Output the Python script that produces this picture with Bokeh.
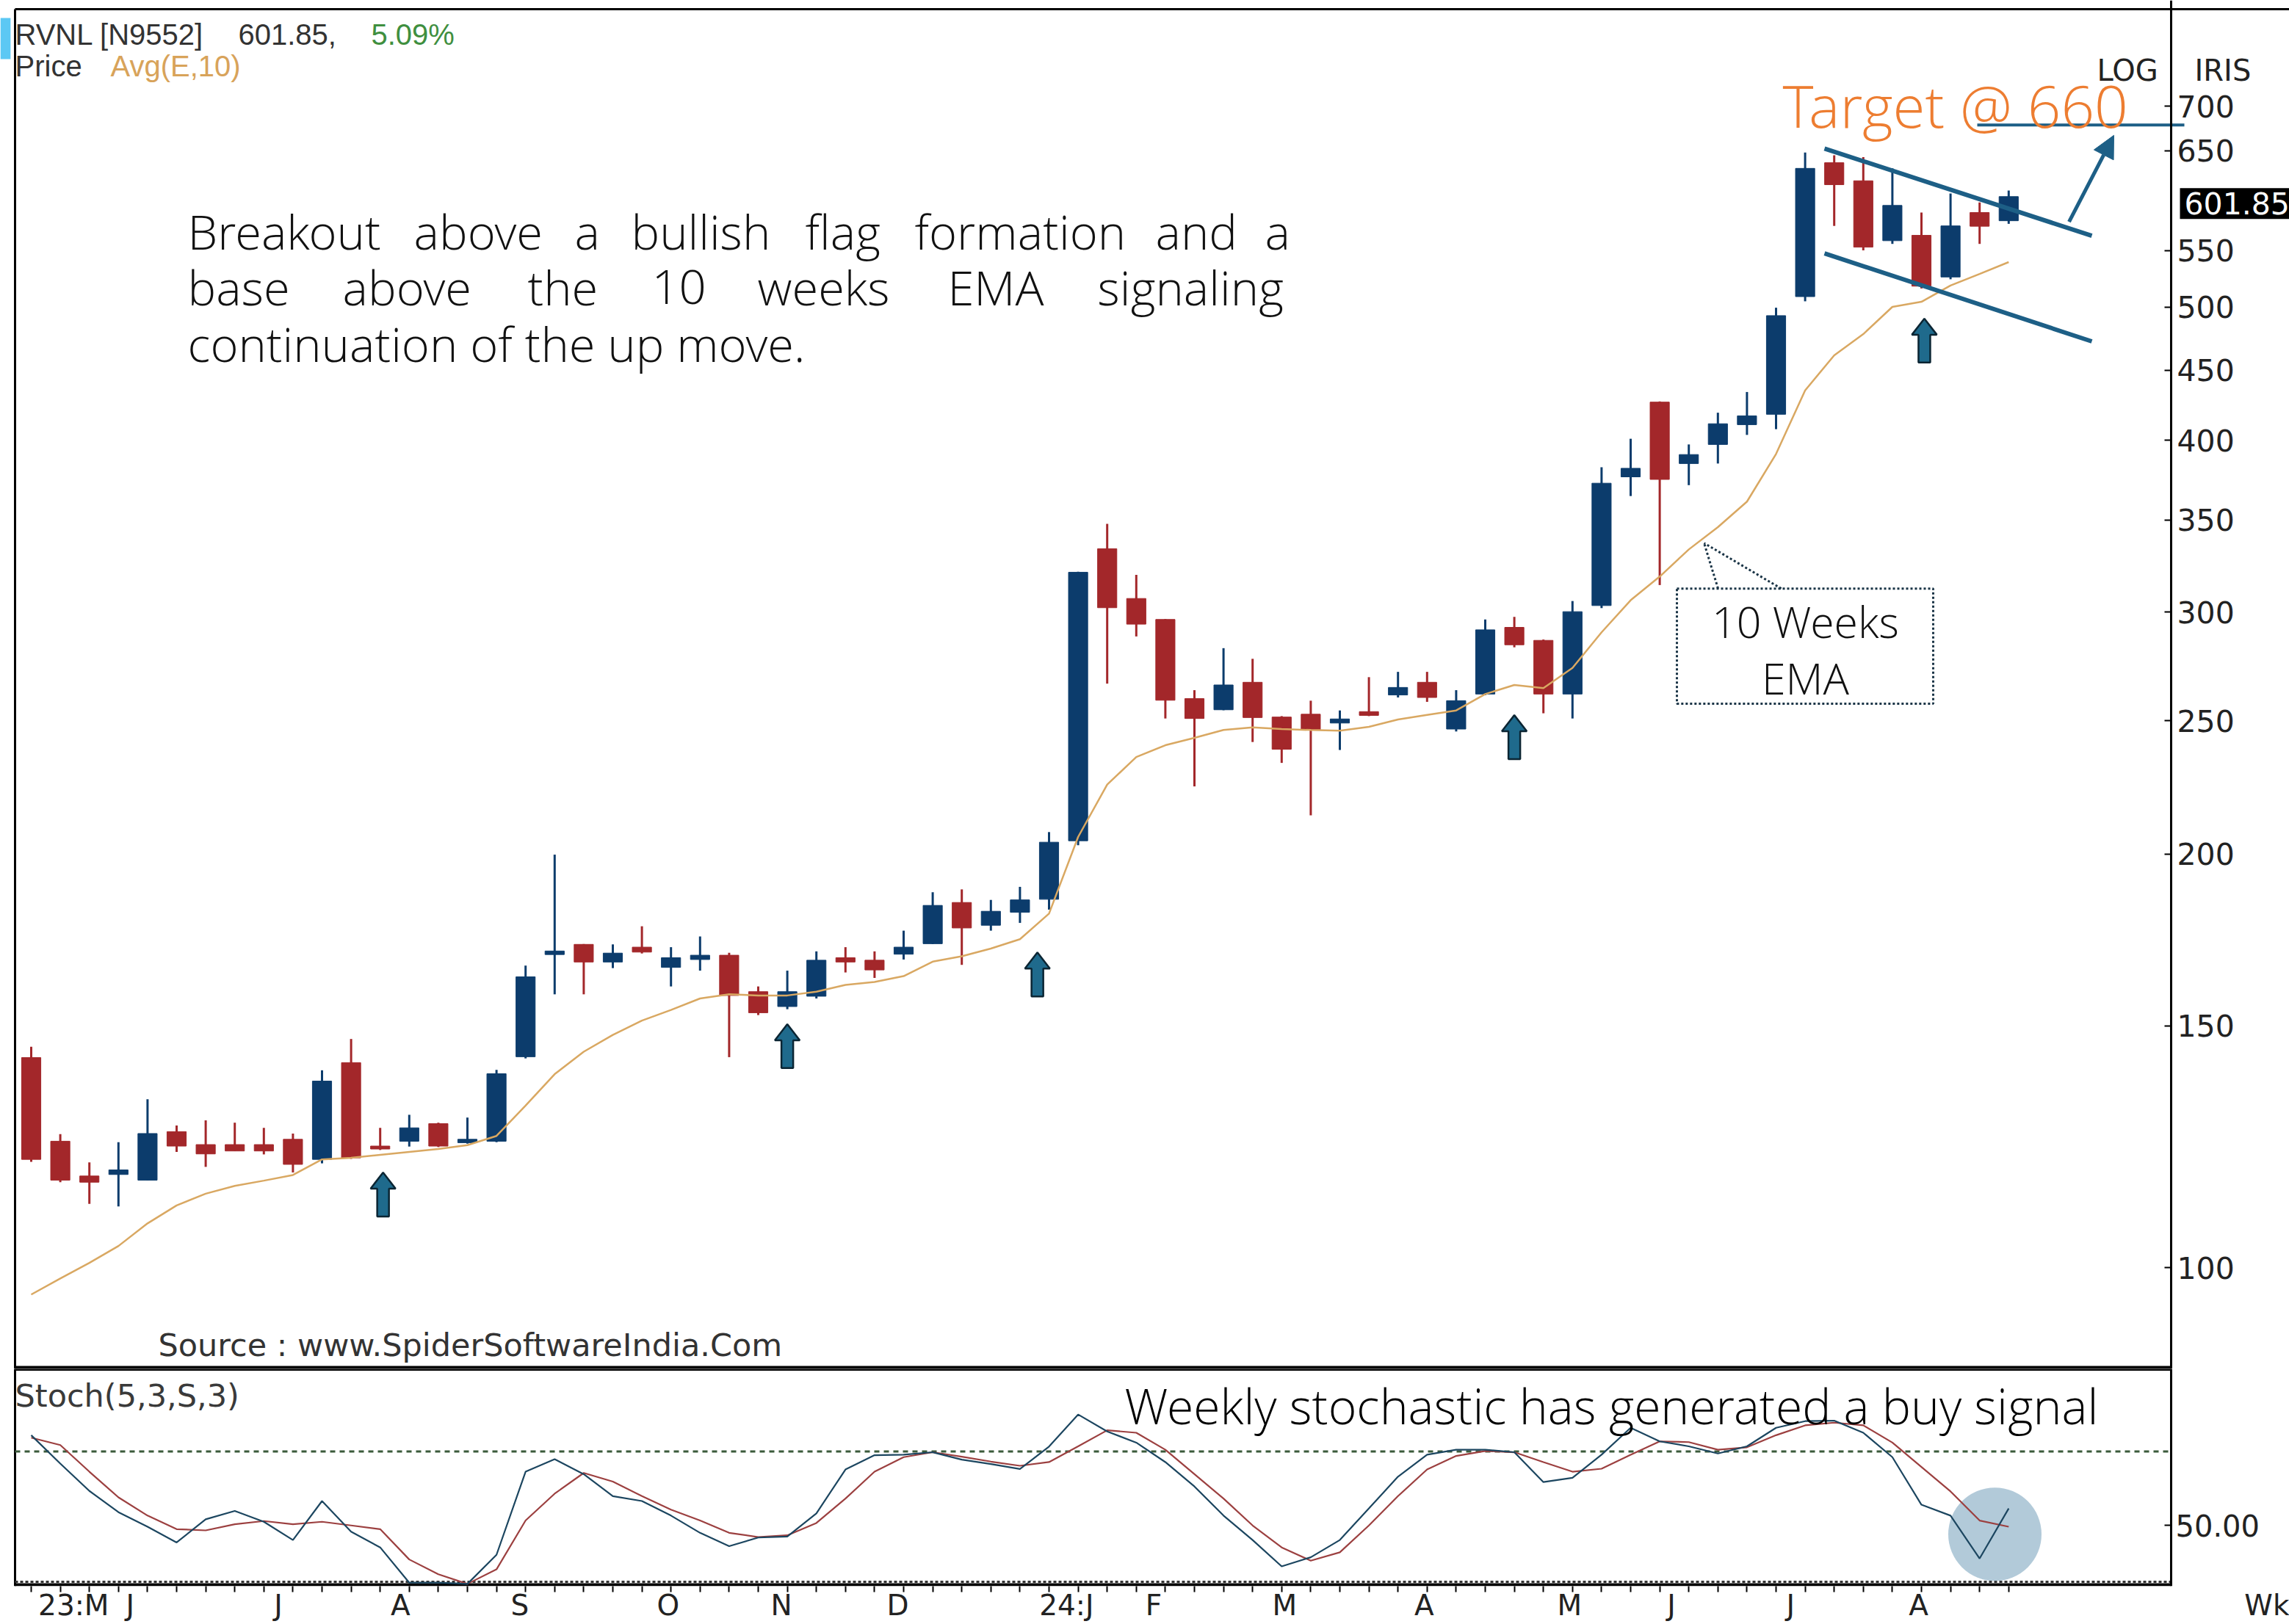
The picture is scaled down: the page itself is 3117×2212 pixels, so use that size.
import math
from bokeh.plotting import figure
from bokeh.layouts import column
from bokeh.models import (Range1d, FixedTicker, NumeralTickFormatter, CustomJSTickFormatter,
                          Label, Arrow, NormalHead)
from bokeh.core.properties import value
from bokeh.embed import file_html
from bokeh.resources import INLINE

# ---------------- data (weekly candles) ----------------
opens = [142.2, 123.6, 116.6, 116.9, 115.8, 125.6, 122.9, 122.9, 122.9, 124.0,
         119.9, 141.0, 122.6, 123.6, 127.3, 123.3, 123.6, 142.4, 169.0, 171.9,
         166.9, 171.1, 165.4, 167.6, 168.8, 158.8, 154.9, 157.6, 168.1, 167.4,
         169.1, 172.1, 184.4, 177.5, 181.4, 185.4, 204.5, 333.6, 306.9, 296.3,
         259.5, 254.7, 266.7, 251.6, 252.8, 249.1, 253.9, 261.1, 266.7, 246.6,
         261.5, 292.4, 286.1, 261.5, 303.3, 376.3, 426.5, 384.8, 397.3, 410.7,
         417.9, 509.0, 637.0, 618.0, 559.0, 564.0, 526.0, 586.0, 578.0]
highs = [144.8, 125.1, 119.3, 123.4, 132.6, 126.9, 128.0, 127.5, 126.4, 125.2,
         139.2, 146.7, 126.4, 129.2, 127.5, 128.6, 139.3, 165.9, 199.8, 172.0,
         171.9, 177.2, 171.1, 174.2, 169.5, 160.2, 164.5, 169.9, 171.1, 169.9,
         175.9, 187.6, 188.5, 185.2, 189.3, 207.5, 321.0, 347.8, 319.3, 296.5,
         263.2, 282.4, 277.4, 252.0, 258.6, 254.4, 269.0, 271.4, 271.4, 263.2,
         296.3, 297.6, 286.5, 305.6, 382.4, 401.1, 427.0, 397.3, 419.0, 433.8,
         499.6, 648.0, 645.0, 643.0, 631.0, 586.0, 605.0, 596.0, 608.0]
lows = [119.4, 115.4, 111.3, 110.8, 115.8, 121.4, 118.4, 121.6, 120.9, 117.3,
        119.1, 120.0, 121.8, 122.5, 122.4, 123.1, 123.4, 142.0, 158.1, 158.1,
        165.2, 169.3, 160.2, 164.5, 142.3, 152.7, 154.2, 157.0, 164.0, 162.5,
        167.6, 172.0, 166.1, 175.9, 178.2, 182.2, 203.0, 266.1, 288.0, 251.0,
        224.0, 254.5, 241.3, 233.0, 213.4, 238.1, 252.0, 260.0, 258.1, 245.6,
        261.0, 282.8, 253.2, 251.0, 302.0, 364.4, 313.9, 371.1, 384.8, 403.7,
        407.6, 505.0, 573.0, 550.0, 556.0, 516.0, 524.0, 556.0, 575.0]
closes = [119.9, 115.8, 115.4, 117.8, 125.2, 122.6, 121.0, 121.6, 121.6, 118.9,
          136.7, 120.2, 122.0, 126.4, 122.6, 124.0, 138.4, 162.8, 170.0, 166.9,
          169.4, 169.7, 168.1, 168.8, 157.8, 153.3, 158.8, 167.4, 166.9, 164.7,
          171.1, 183.5, 176.7, 181.7, 185.2, 204.0, 320.7, 302.2, 294.0, 258.8,
          251.0, 265.5, 251.4, 238.4, 246.2, 250.8, 252.3, 264.4, 260.0, 258.6,
          291.2, 284.0, 261.5, 300.2, 372.3, 381.7, 374.7, 390.6, 411.3, 416.8,
          493.0, 631.0, 614.0, 553.0, 593.0, 518.0, 573.0, 572.7, 601.85]
ema10 = [95.6, 98.2, 100.8, 103.7, 107.7, 111.0, 113.2, 114.7, 115.7, 116.8,
         119.9, 120.2, 120.8, 121.4, 122.0, 122.8, 124.7, 131.2, 138.3, 143.6,
         147.7, 151.3, 154.0, 157.0, 158.1, 157.8, 157.8, 158.8, 160.6, 161.4,
         163.0, 167.0, 168.5, 170.7, 173.4, 181.0, 205.8, 224.7, 235.3, 240.0,
         243.0, 246.2, 247.3, 246.6, 246.2, 245.9, 247.5, 250.6, 252.5, 254.4,
         261.5, 265.5, 264.1, 273.2, 290.0, 306.0, 318.4, 333.2, 345.9, 361.0,
         391.0, 435.0, 461.3, 478.0, 500.3, 504.6, 518.5, 528.7, 539.3]
stoch_k = [86.6, 75.1, 64.0, 55.4, 49.5, 43.1, 52.5, 55.9, 51.5, 44.1,
           59.9, 47.5, 41.1, 26.8, 26.8, 26.3, 38.1, 71.8, 76.9, 70.8,
           61.9, 59.9, 54.0, 47.0, 41.6, 45.1, 45.5, 54.9, 72.7, 78.5,
           78.7, 79.7, 76.7, 74.9, 72.9, 82.0, 95.0, 88.1, 83.6, 75.7,
           65.8, 54.0, 44.1, 33.4, 37.1, 44.1, 56.9, 69.8, 78.7, 80.7,
           80.7, 79.7, 67.6, 69.3, 78.7, 89.6, 84.1, 82.1, 79.2, 82.1,
           89.6, 92.3, 92.5, 87.6, 77.7, 58.4, 54.0, 36.6, 56.9]
stoch_d = [85.6, 82.6, 71.8, 61.4, 54.0, 48.5, 48.0, 50.5, 51.8, 50.5,
           51.5, 50.0, 48.5, 36.2, 30.2, 26.3, 32.2, 52.0, 62.9, 71.3,
           67.8, 61.9, 56.4, 52.0, 47.0, 45.3, 46.0, 51.0, 60.9, 71.8,
           77.7, 79.7, 77.9, 75.9, 74.2, 75.7, 82.1, 88.6, 87.6, 80.7,
           70.8, 60.9, 50.0, 41.1, 35.7, 39.1, 50.0, 61.9, 72.7, 78.2,
           80.2, 79.7, 75.7, 71.8, 73.0, 78.7, 84.1, 83.8, 80.7, 81.7,
           86.6, 90.6, 91.7, 90.6, 83.6, 73.7, 63.8, 52.0, 49.5]
month_labels = ["23:M", "J", "J", "A", "S", "O", "N", "D", "24:J", "F",
                "M", "A", "M", "J", "J", "A", "Wk"]
month_pos = [1.46, 3.4, 8.5, 12.7, 16.8, 21.9, 25.8, 29.8, 35.6, 38.6,
             43.1, 47.9, 52.9, 56.4, 60.5, 64.9, 76.9]
price_ticks = [100, 150, 200, 250, 300, 350, 400, 450, 500, 550, 650, 700]
stoch_ticks = [50]
signal_arrows_x = [12.1, 26.0, 34.6, 51.0, 65.1]
signal_arrows_p = [117.3, 150.4, 169.6, 252.4, 490.6]
target_price = 660

# ---------------- page geometry helpers ----------------
W, H = 3117, 2212
FL, AX, FT, FB = 20, 2956, 12, 1866      # left border, price axis, top border, panel split
X0_PX, DX_PX = 42.0, 39.6
P100_PX, OCT_PX = 1728.0, 564.0
S_BOT = 2163
S50_PX, S_UNIT = 2080.0, 3.37
TXT_DY = -18   # baseline correction for texts
THIN = "Open Sans Light, Open Sans"


def xd(px):
    return (px - X0_PX) / DX_PX


def pd(py):
    return 100.0 * 2 ** ((P100_PX - py) / OCT_PX)


def xpx(x):
    return X0_PX + DX_PX * x


def ppx(p):
    return P100_PX - OCT_PX * math.log2(p / 100.0)


def sd(py):
    return 50 + (S50_PX - py) / S_UNIT


UP = "#0c3c6c"
DN = "#a3272a"
ANN = "#1d5f86"
DARK = "#2b2b2b"

N = len(closes)
idx = list(range(N))

# ---------------- price panel ----------------
p1 = figure(frame_width=W, frame_height=FB,
            min_border_left=0, min_border_right=0, min_border_top=0, min_border_bottom=0,
            x_range=Range1d(xd(0), xd(W)), y_range=Range1d(pd(FB), pd(0)),
            y_axis_type="log", y_axis_location="right", x_axis_location=None,
            toolbar_location=None, output_backend="svg", title=None)
p1.xgrid.visible = False
p1.ygrid.visible = False
p1.outline_line_color = None
p1.background_fill_color = "white"
p1.border_fill_color = "white"

ya = p1.yaxis[0]
ya.fixed_location = xd(AX)
ya.ticker = FixedTicker(ticks=price_ticks)
ya.formatter = NumeralTickFormatter(format="0")
ya.major_label_text_font = "DejaVu Sans"
ya.major_label_text_font_size = "41px"
ya.major_label_text_color = "#222222"
ya.major_tick_in = 9
ya.major_tick_out = 0
ya.major_tick_line_width = 2
ya.minor_tick_line_color = None
ya.axis_line_width = 3
ya.major_label_standoff = 8

# frame borders
p1.segment(x0=[xd(FL), xd(FL), xd(FL)], y0=[pd(FT), pd(FT), pd(FB - 2)],
           x1=[xd(W), xd(FL), xd(AX)], y1=[pd(FT), pd(FB), pd(FB - 2)],
           line_color="black", line_width=[3, 3, 4])

colors = [UP if c >= o else DN for o, c in zip(opens, closes)]
tops = [max(o, c) for o, c in zip(opens, closes)]
bots = [min(o, c) for o, c in zip(opens, closes)]
p1.segment(x0=idx, y0=lows, x1=idx, y1=highs, line_color=colors, line_width=3)
p1.vbar(x=idx, width=0.66, top=tops, bottom=bots, fill_color=colors,
        line_color=colors, line_width=1)
p1.line(idx, ema10, line_color="#d9a862", line_width=2.5)

# flag lines and target
p1.segment(x0=[xd(2484), xd(2484)], y0=[pd(202), pd(345)],
           x1=[xd(2848), xd(2848)], y1=[pd(321), pd(465)],
           line_color=ANN, line_width=6)
p1.segment(x0=[xd(2692)], y0=[pd(170)], x1=[xd(2974)], y1=[pd(170)],
           line_color=ANN, line_width=4)
p1.add_layout(Arrow(end=NormalHead(size=30, fill_color=ANN, line_color=ANN),
                    x_start=xd(2817), y_start=pd(302), x_end=xd(2878), y_end=pd(184),
                    line_color=ANN, line_width=5))

# block arrows under candles
xs, ys = [], []
for ax, ap in zip(signal_arrows_x, signal_arrows_p):
    cx, ty = xpx(ax), ppx(ap)
    shape = [(0, 0), (17, 22), (8, 22), (8, 60), (-8, 60), (-8, 22), (-17, 22)]
    xs.append([xd(cx + dx) for dx, dy in shape])
    ys.append([pd(ty + dy) for dx, dy in shape])
p1.patches(xs, ys, fill_color="#1f6a8c", line_color="#0b2533", line_width=2.5)

# callout box "10 Weeks EMA"
CB = "#1a3446"
p1.line([xd(v) for v in [2283, 2632, 2632, 2283, 2283]],
        [pd(v) for v in [802, 802, 959, 959, 802]],
        line_color=CB, line_width=3, line_dash="3 3")
p1.multi_line([[xd(2339), xd(2320)], [xd(2425), xd(2320)]],
              [[pd(802), pd(740)], [pd(802), pd(740)]],
              line_color=CB, line_width=3, line_dash="3 3")
p1.text(x=[xd(2458), xd(2458)], y=[pd(864 + TXT_DY), pd(941 + TXT_DY)],
        text=["10 Weeks", "EMA"],
        text_font=value(THIN), text_font_size="59px", text_color="#111111",
        text_align="center", text_baseline="alphabetic")

# paragraph (justified lines placed word by word)
line1 = ["Breakout", "above", "a", "bullish", "flag", "formation", "and", "a"]
line1_x = [255, 563, 782, 859, 1096, 1245, 1573, 1722]
line2 = ["base", "above", "the", "10", "weeks", "EMA", "signaling"]
line2_x = [255, 466, 718, 887, 1031, 1290, 1494]
wx = [xd(v) for v in line1_x] + [xd(v) for v in line2_x] + [xd(255)]
wy = ([pd(333 + TXT_DY)] * len(line1) + [pd(409 + TXT_DY)] * len(line2)
      + [pd(486 + TXT_DY)])
wt = line1 + line2 + ["continuation of the up move."]
p1.text(x=wx, y=wy, text=wt, text_font=value(THIN), text_font_size="65px",
        text_color="#111111", text_align="left", text_baseline="alphabetic")


def lab(fig, x, y, text, font="DejaVu Sans", size="42px", color=DARK, align="left",
        baseline="alphabetic", **kw):
    fig.add_layout(Label(x=x, y=y, text=text, text_font=font, text_font_size=size,
                         text_color=color, text_align=align, text_baseline=baseline, **kw))


# header
lab(p1, xd(0), pd(80), "\u00a0", font="Liberation Sans", size="50px",
    background_fill_color="#5cc8f4", baseline="bottom")
lab(p1, xd(20), pd(65 + TXT_DY), "RVNL [N9552]", font="Liberation Sans", size="40px",
    color="#333333")
lab(p1, xd(324), pd(65 + TXT_DY), f"{closes[-1]:.2f},", font="Liberation Sans", size="40px",
    color="#333333")
lab(p1, xd(505), pd(65 + TXT_DY), "5.09%", font="Liberation Sans", size="40px",
    color="#3f8f3f")
lab(p1, xd(20), pd(108 + TXT_DY), "Price", font="Liberation Sans", size="40px",
    color="#333333")
lab(p1, xd(150), pd(108 + TXT_DY), "Avg(E,10)", font="Liberation Sans", size="40px",
    color="#d8a35a")
lab(p1, xd(215), pd(1851 + TXT_DY), "Source : www.SpiderSoftwareIndia.Com", size="43px",
    color="#333333")
lab(p1, xd(2855), pd(114 + TXT_DY), "LOG", size="40px", color="#222222")
lab(p1, xd(2988), pd(114 + TXT_DY), "IRIS", size="40px", color="#222222")
lab(p1, xd(2427), pd(160 + TXT_DY), f"Target @ {target_price}", font=THIN,
    size="80px", color="#ed7d31")
lab(p1, xd(2968), pd(277), f"{closes[-1]:.2f}", size="41px", color="white",
    baseline="middle", background_fill_color="black", padding=6)

# ---------------- stochastic panel ----------------
p2 = figure(frame_width=W, frame_height=S_BOT - FB,
            min_border_left=0, min_border_right=0, min_border_top=0, min_border_bottom=0,
            x_range=p1.x_range, y_range=Range1d(sd(S_BOT), sd(FB)),
            y_axis_location="right", toolbar_location=None, output_backend="svg",
            title=None)
p2.xgrid.visible = False
p2.ygrid.visible = False
p2.outline_line_color = None
p2.background_fill_color = "white"
p2.border_fill_color = "white"

sa = p2.yaxis[0]
sa.fixed_location = xd(AX)
sa.ticker = FixedTicker(ticks=stoch_ticks)
sa.formatter = NumeralTickFormatter(format="0.00")
sa.major_label_text_font = "DejaVu Sans"
sa.major_label_text_font_size = "40px"
sa.major_label_text_color = "#222222"
sa.major_tick_in = 9
sa.major_tick_out = 0
sa.major_tick_line_width = 2
sa.minor_tick_line_color = None
sa.axis_line_width = 3
sa.major_label_standoff = 6

xa = p2.xaxis[0]
xa.ticker = FixedTicker(ticks=month_pos, minor_ticks=idx)
xa.formatter = CustomJSTickFormatter(
    args=dict(pos=month_pos, labels=month_labels),
    code="const i = pos.findIndex(p => Math.abs(p - tick) < 1e-6); return i >= 0 ? labels[i] : '';")
xa.major_tick_line_color = None
xa.major_tick_out = 0
xa.minor_tick_out = 8
xa.minor_tick_in = 0
xa.minor_tick_line_width = 2
xa.minor_tick_line_color = "black"
xa.axis_line_color = None
xa.major_label_standoff = -5
xa.major_label_text_font = "DejaVu Sans"
xa.major_label_text_font_size = "39px"
xa.major_label_text_color = "#222222"

# panel borders
p2.segment(x0=[xd(FL), xd(FL), xd(FL)], y0=[sd(FB + 1), sd(FB), sd(S_BOT - 2)],
           x1=[xd(AX), xd(FL), xd(AX)], y1=[sd(FB + 1), sd(S_BOT), sd(S_BOT - 2)],
           line_color="black", line_width=[3, 3, 4])
p2.segment(x0=[xd(FL)], y0=[sd(S_BOT - 6)], x1=[xd(AX)], y1=[sd(S_BOT - 6)],
           line_color="#333333", line_width=3, line_dash="4 3")
p2.segment(x0=[xd(FL)], y0=[80], x1=[xd(AX)], y1=[80],
           line_color="#3b5b3b", line_width=3, line_dash="7 6")

p2.scatter(x=[xd(2716)], y=[sd(2092)], size=127, marker="circle",
           fill_color="#7fa6bf", fill_alpha=0.6, line_color=None)
p2.line(idx, stoch_d, line_color="#9c4040", line_width=2.2)
p2.line(idx, stoch_k, line_color="#1c4660", line_width=2.2)

lab(p2, xd(20), sd(1907 + TXT_DY + 14), "Stoch(5,3,S,3)", size="43px", color="#3a3a3a")
lab(p2, xd(1531), sd(1930 + TXT_DY + 4), "Weekly stochastic has generated a buy signal",
    font=THIN, size="66px", color="#000000")

layout = column(p1, p2, spacing=0, width=W, height=H, sizing_mode="fixed",
                styles={"overflow": "hidden"})
open("out.html", "w").write(file_html(layout, INLINE))
